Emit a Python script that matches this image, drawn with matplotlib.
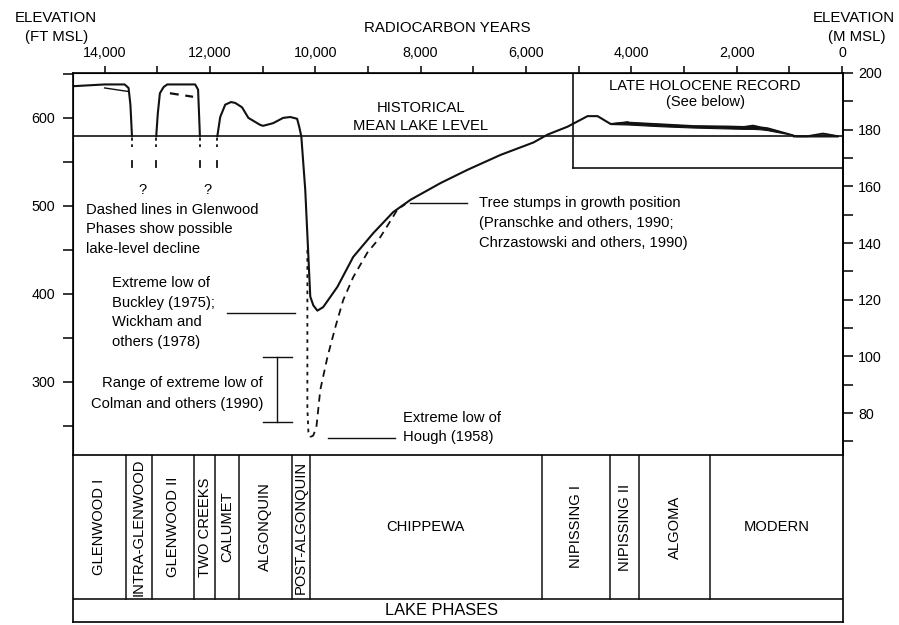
import matplotlib.pyplot as plt

plt.rcParams['font.family'] = ['Liberation Sans', 'DejaVu Sans']

# lake level, radiocarbon years B.P. vs feet above mean sea level
glenwood1_yr = [14600, 14000, 13620, 13545, 13510, 13480]
glenwood1_ft = [636, 638, 638, 634, 615, 579]
glenwood1_decline_yr = [14000, 13550]
glenwood1_decline_ft = [634, 630]

glenwood2_yr = [13020, 12990, 12950, 12880, 12810, 12280, 12225, 12190]
glenwood2_ft = [579, 605, 628, 635, 638, 638, 632, 579]
glenwood2_decline_yr = [12760, 12320]
glenwood2_decline_ft = [628, 624]

# Calumet -> Algonquin -> Chippewa low -> Nipissing
main_yr = [11860, 11805, 11710, 11600, 11520, 11390, 11270, 11045, 10990, 10800,
           10610, 10475, 10345, 10305, 10265, 10190, 10095, 10037, 9960, 9850,
           9580, 9280, 8900, 8520, 8190, 7620, 7110, 6480, 5860, 5590, 5210,
           4830, 4640, 4390, 4070]
main_ft = [579, 601, 615, 618, 617, 612, 600, 592, 591, 594,
           600, 601, 599, 590, 579, 518, 397, 387, 381, 385,
           408, 442, 469, 493, 507, 526, 541, 558, 572, 581, 590,
           602, 602, 593, 595]

# late Holocene band (upper / lower edge)
holo_yr = [4390, 4070, 3760, 3440, 2810, 2170, 1860, 1690, 1540, 1410, 930]
holo_upper = [593, 595, 594, 593, 591, 590.5, 590, 591.5, 589.5, 588.5, 580.5]
holo_lower = [593, 592.5, 591.5, 590.5, 589, 588, 587.5, 587.5, 587, 586, 580.5]

modern_yr = [930, 870, 650, 360, 80]
modern_upper = [580, 579.5, 579.5, 582.5, 579.5]

# extreme low of Hough (1958)
hough_yr = [10150, 10150, 10130, 10095, 10040, 9980, 9905, 9770, 9620, 9470,
            9280, 9010, 8760, 8520, 8440, 8290]
hough_ft = [450, 270, 243, 237.5, 239, 248, 291, 328, 362, 393,
            419, 447, 465, 488, 496, 502]

glenwood_drop_yr = [13480, 13020, 12190, 11860]
mean_level_ft = 579
holocene_box_yr = 5100
holocene_box_ft = 543

phase_names = ['GLENWOOD I', 'INTRA-GLENWOOD', 'GLENWOOD II', 'TWO CREEKS',
               'CALUMET', 'ALGONQUIN', 'POST-ALGONQUIN', 'CHIPPEWA',
               'NIPISSING I', 'NIPISSING II', 'ALGOMA', 'MODERN']
phase_edges = [14600, 13600, 13100, 12300, 11900, 11450, 10450, 10100,
               5700, 4400, 3850, 2500, -20]
horizontal_phases = ['CHIPPEWA', 'MODERN']

year_ticks = [14000, 12000, 10000, 8000, 6000, 4000, 2000, 0]
ft_ticks = [300, 400, 500, 600]
m_ticks = [80, 100, 120, 140, 160, 180, 200]

W, H = 899, 625
fig = plt.figure(figsize=(W / 100, H / 100), dpi=100)


def fpos(x, y):
    return x / W, 1 - y / H


ax = fig.add_axes([73 / W, 1 - 455 / H, 770 / W, 382 / H])
ax.set_xlim(14600, -20)
ax.set_ylim(217, 651)

lw = 1.5
c = '#111111'
ax.axhline(mean_level_ft, color=c, lw=1.2)
ax.plot(glenwood1_yr, glenwood1_ft, color=c, lw=lw)
ax.plot(glenwood1_decline_yr, glenwood1_decline_ft, color=c, lw=1.0)
ax.plot(glenwood2_yr, glenwood2_ft, color=c, lw=lw)
ax.plot(glenwood2_decline_yr, glenwood2_decline_ft, color=c, lw=1.6,
        linestyle=(0, (4, 3)))
ax.plot(main_yr, main_ft, color=c, lw=lw)
ax.fill_between(holo_yr, holo_lower, holo_upper, color=c, lw=0.8)
ax.plot(holo_yr, holo_upper, color=c, lw=1.0)
ax.fill_between(modern_yr, mean_level_ft, modern_upper, color='#333333', lw=1.0)
ax.plot(modern_yr, modern_upper, color=c, lw=1.0)

ax.plot(hough_yr[:4], hough_ft[:4], color=c, lw=1.3, linestyle=(0, (2, 2.5)))
ax.plot(hough_yr[3:], hough_ft[3:], color=c, lw=1.3, linestyle=(0, (4, 3)))

for yr in glenwood_drop_yr:
    ax.plot([yr, yr], [577, 563], color=c, lw=1.3, linestyle=(0, (1.5, 2)))
    ax.plot([yr, yr], [551, 544], color=c, lw=1.3)

# late Holocene record box
ax.plot([holocene_box_yr, holocene_box_yr], [holocene_box_ft, 651], color=c, lw=1.2)
ax.plot([holocene_box_yr, -20], [holocene_box_ft, holocene_box_ft], color=c, lw=1.2)

fs = 10.6
ax.text(8000, 611, 'HISTORICAL', ha='center', va='center', fontsize=fs)
ax.text(8000, 591, 'MEAN LAKE LEVEL', ha='center', va='center', fontsize=fs)
ax.text(2600, 636, 'LATE HOLOCENE RECORD', ha='center', va='center', fontsize=fs)
ax.text(2600, 618, '(See below)', ha='center', va='center', fontsize=fs)
ax.text(13290, 518, '?', ha='center', va='center', fontsize=fs)
ax.text(12050, 518, '?', ha='center', va='center', fontsize=fs)


def put_lines(x, y0, lines, ha='left', dy=22.3):
    for i, s in enumerate(lines):
        ax.text(x, y0 - i * dy, s, ha=ha, va='center', fontsize=fs)


put_lines(14353, 495.5, ['Dashed lines in Glenwood', 'Phases show possible',
                         'lake-level decline'])
put_lines(13858, 412.5, ['Extreme low of', 'Buckley (1975);', 'Wickham and',
                         'others (1978)'])
ax.plot([11670, 10380], [378.4, 378.4], color=c, lw=1.0)

put_lines(10990, 299, ['Range of extreme low of', 'Colman and others (1990)'],
          ha='right', dy=24)
ax.plot([10722, 10722], [328.4, 254.5], color=c, lw=1.0)
ax.plot([10988, 10437], [328.4, 328.4], color=c, lw=1.0)
ax.plot([10988, 10437], [254.5, 254.5], color=c, lw=1.0)

put_lines(8326, 259, ['Extreme low of', 'Hough (1958)'], dy=21.5)
ax.plot([9752, 8478], [236, 236], color=c, lw=1.0)

put_lines(6900, 503.4, ['Tree stumps in growth position',
                        '(Pranschke and others, 1990;',
                        'Chrzastowski and others, 1990)'], dy=22.7)
ax.plot([8193, 7110], [503.4, 503.4], color=c, lw=1.0)

# axes, ticks
ax.xaxis.set_ticks_position('top')
ax.set_xticks(year_ticks)
ax.set_xticklabels([f'{t:,}' for t in year_ticks])
ax.set_xticks(range(1000, 14000, 2000), minor=True)
ax.tick_params(axis='x', which='both', direction='out', length=5, width=1.1,
               labelsize=10.3, pad=4.5)
ax.set_yticks(ft_ticks)
ax.set_yticks([250, 350, 450, 550, 650], minor=True)
ax.tick_params(axis='y', which='both', direction='out', length=7, width=1.1,
               labelsize=10.3, pad=6)
for s in ['top', 'left', 'right']:
    ax.spines[s].set_linewidth(1.2)
ax.spines['bottom'].set_visible(False)

ax2 = ax.twinx()
ax2.set_ylim(65.2, 199.65)
ax2.set_yticks(m_ticks)
ax2.set_yticks(range(70, 200, 20), minor=True)
ax2.tick_params(axis='y', which='both', direction='out', length=7, width=1.1,
                labelsize=10.3, pad=4)
ax2.spines['bottom'].set_visible(False)
ax2.spines['right'].set_linewidth(1.2)

# headings
hs = 10.8
fig.text(*fpos(56, 18), 'ELEVATION', ha='center', va='center', fontsize=hs)
fig.text(*fpos(57, 37), '(FT MSL)', ha='center', va='center', fontsize=hs)
fig.text(*fpos(854, 18), 'ELEVATION', ha='center', va='center', fontsize=hs)
fig.text(*fpos(857, 37), '(M MSL)', ha='center', va='center', fontsize=hs)
fig.text(*fpos(447, 28), 'RADIOCARBON YEARS', ha='center', va='center', fontsize=hs)

# lake phases panel
axp = fig.add_axes([73 / W, 1 - 622 / H, 770 / W, 167 / H])
axp.set_xlim(14600, -20)
axp.set_ylim(0, 1)
axp.set_xticks([])
axp.set_yticks([])
for s in axp.spines.values():
    s.set_linewidth(1.2)
row = 0.138
axp.axhline(row, color=c, lw=1.2)
for e in phase_edges[1:-1]:
    axp.plot([e, e], [row, 1], color=c, lw=1.1)
for name, a, b in zip(phase_names, phase_edges[:-1], phase_edges[1:]):
    rot = 0 if name in horizontal_phases else 90
    axp.text((a + b) / 2, (row + 1) / 2, name, rotation=rot, ha='center',
             va='center', fontsize=10.6)
axp.text(7600, row / 2, 'LAKE PHASES', ha='center', va='center', fontsize=11.8)

fig.savefig('out.png', dpi=100)
